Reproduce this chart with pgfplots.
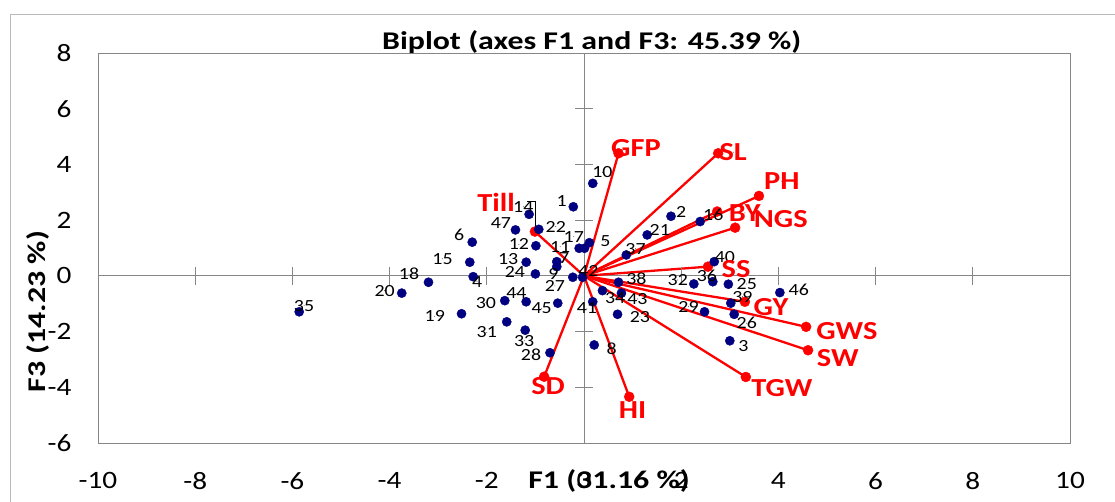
\documentclass[border=0pt]{standalone}
\usepackage{fontspec}
\setmainfont[FakeStretch=1.17]{Carlito}
\newfontfamily\titlefont[FakeStretch=1.25]{Carlito}
\usepackage{pgfplots}
\usepackage{pgfplotstable}
\pgfplotsset{compat=1.18}
\definecolor{navy}{RGB}{0,0,128}
\definecolor{axgray}{RGB}{134,134,134}
\definecolor{vred}{RGB}{255,0,0}

\pgfplotstableread{
x y
0.18 3.32
-0.22 2.48
-1.13 2.21
-1.41 1.65
-0.93 1.67
-2.30 1.21
-0.99 1.08
-0.10 0.99
0.01 0.99
0.11 1.19
-2.35 0.49
-1.19 0.49
-0.56 0.51
-0.56 0.33
-2.28 -0.03
-1.00 0.07
-0.23 -0.05
-0.03 -0.05
-3.20 -0.23
-3.75 -0.62
-5.86 -1.29
-1.63 -0.89
-1.19 -0.93
-0.54 -0.98
0.18 -0.93
-2.52 -1.36
-1.59 -1.65
-1.21 -1.95
-0.70 -2.76
0.21 -2.48
0.38 -0.53
0.71 -0.23
0.77 -0.62
0.69 -1.38
0.87 0.75
1.30 1.47
1.79 2.14
2.39 1.95
2.68 0.51
2.65 -0.21
2.26 -0.29
2.97 -0.30
4.03 -0.60
2.48 -1.29
3.02 -0.98
3.09 -1.38
3.00 -2.33
}\dots

\pgfplotstableread{
x y lbl
-0.46 2.70 1
-1.25 2.48 14
-1.71 1.89 47
-0.58 1.77 22
-2.57 1.49 6
-1.34 1.13 12
-0.21 1.41 17
0.44 1.23 5
-0.49 1.05 11
-0.41 0.63 7
-2.91 0.61 15
-1.56 0.61 13
-1.42 0.13 24
-0.63 0.06 9
-2.20 -0.21 4
-0.60 -0.36 27
0.09 0.19 42
-2.02 -0.96 30
-1.39 -0.63 44
-0.87 -1.16 45
0.06 -1.16 41
-3.07 -1.45 19
-2.00 -2.03 31
-1.23 -2.33 33
-1.09 -2.84 28
0.57 -2.62 8
0.64 -0.80 34
1.08 -0.11 38
1.10 -0.83 43
1.15 -1.47 23
1.06 0.97 37
1.56 1.65 21
2.00 2.31 2
2.66 2.19 16
0.38 3.72 10
-3.60 0.06 18
-4.10 -0.53 20
-5.76 -1.07 35
2.90 0.67 40
2.53 0.01 36
1.93 -0.15 32
3.35 -0.29 25
4.42 -0.51 46
2.15 -1.11 29
3.26 -0.75 39
3.35 -1.70 26
3.28 -2.51 3
}\dotlabels

\pgfplotstableread{
x y lbl lx ly
-1.01 1.59 Till -1.81 2.63
0.71 4.40 GFP 1.07 4.58
2.76 4.40 SL 3.07 4.44
3.60 2.87 PH 4.07 3.40
2.74 2.31 BY 3.31 2.26
3.11 1.73 NGS 4.05 2.05
2.55 0.33 SS 3.13 0.24
3.31 -0.93 GY 3.85 -1.11
4.57 -1.83 GWS 5.41 -1.98
4.61 -2.67 SW 5.22 -2.96
3.33 -3.63 TGW 4.07 -4.04
0.93 -4.34 HI 1.00 -4.83
-0.82 -3.62 SD -0.74 -3.95
}\vectors

\begin{document}
\begin{tikzpicture}
\useasboundingbox (0,0) rectangle (1115pt,-502pt);
\draw[gray!55, line width=0.8pt] (10pt,-510pt) -- (10pt,-14pt) -- (1120pt,-14pt);
\begin{axis}[
  at={(98pt,-443pt)}, anchor=south west,
  scale only axis, width=972pt, height=390pt,
  xmin=-10, xmax=10, ymin=-6, ymax=8,
  xtick={-10,-8,...,10}, ytick={-6,-4,...,8},
  major tick length=0pt,
  axis line style={axgray, line width=0.9pt},
  /pgf/number format/assume math mode=true,
  tick label style={font=\fontsize{25}{30}\selectfont, text=black},
  xticklabel style={yshift=-26pt},
  yticklabel style={xshift=-23pt},
  clip=false,
]
% zero lines
\addplot[axgray, line width=0.9pt] coordinates {(-10,0) (10,0)};
\addplot[axgray, line width=0.9pt] coordinates {(0,-6) (0,8)};
\addplot[only marks, mark=|, mark size=9pt, axgray, mark options={line width=0.9pt}]
  coordinates {(-8,0) (-6,0) (-4,0) (-2,0) (2,0) (4,0) (6,0) (8,0)};
\addplot[only marks, mark=-, mark size=9pt, axgray, mark options={line width=0.9pt}]
  coordinates {(0,-4) (0,-2) (0,2) (0,4) (0,6)};
% vectors
\addplot[vred, line width=2.3pt, quiver={u=\thisrow{x}, v=\thisrow{y}}]
  table[x expr=0, y expr=0] {\vectors};
\addplot[only marks, mark=*, mark size=5pt, vred, mark options={draw=vred, fill=vred}]
  table[x=x, y=y] {\vectors};
% leader line
\addplot[black, line width=0.7pt] coordinates {(-1.17,2.66) (-1.01,2.66) (-1.01,1.65)};
% observations
\addplot[only marks, mark=*, mark size=4.6pt, navy, mark options={draw=navy, fill=navy}]
  table[x=x, y=y] {\dots};
% observation labels
\addplot[only marks, mark=*, mark size=0.1pt, mark options={draw=none, fill=none},
  nodes near coords, point meta=explicit symbolic,
  every node near coord/.append style={anchor=center, inner sep=0pt,
    font=\fontsize{17}{20}\selectfont, text=black}]
  table[x=x, y=y, meta=lbl] {\dotlabels};
% variable labels
\addplot[only marks, mark=*, mark size=0.1pt, mark options={draw=none, fill=none},
  nodes near coords, point meta=explicit symbolic,
  every node near coord/.append style={anchor=center, inner sep=0pt,
    font=\bfseries\fontsize{26}{30}\selectfont, text=vred}]
  table[x=lx, y=ly, meta=lbl] {\vectors};
\end{axis}
\node[font=\titlefont\bfseries\fontsize{25.5}{30}\selectfont, anchor=base] at (591.7pt,-50pt) {Biplot (axes F1 and F3: 45.39 \%)};
\node[font=\titlefont\bfseries\fontsize{25.5}{30}\selectfont, anchor=base, rotate=90] at (45pt,-311.7pt) {F3 (14.23 \%)};
\node[font=\titlefont\bfseries\fontsize{25.5}{30}\selectfont, anchor=base] at (609pt,-488pt) {F1 (31.16 \%)};
\end{tikzpicture}
\end{document}
